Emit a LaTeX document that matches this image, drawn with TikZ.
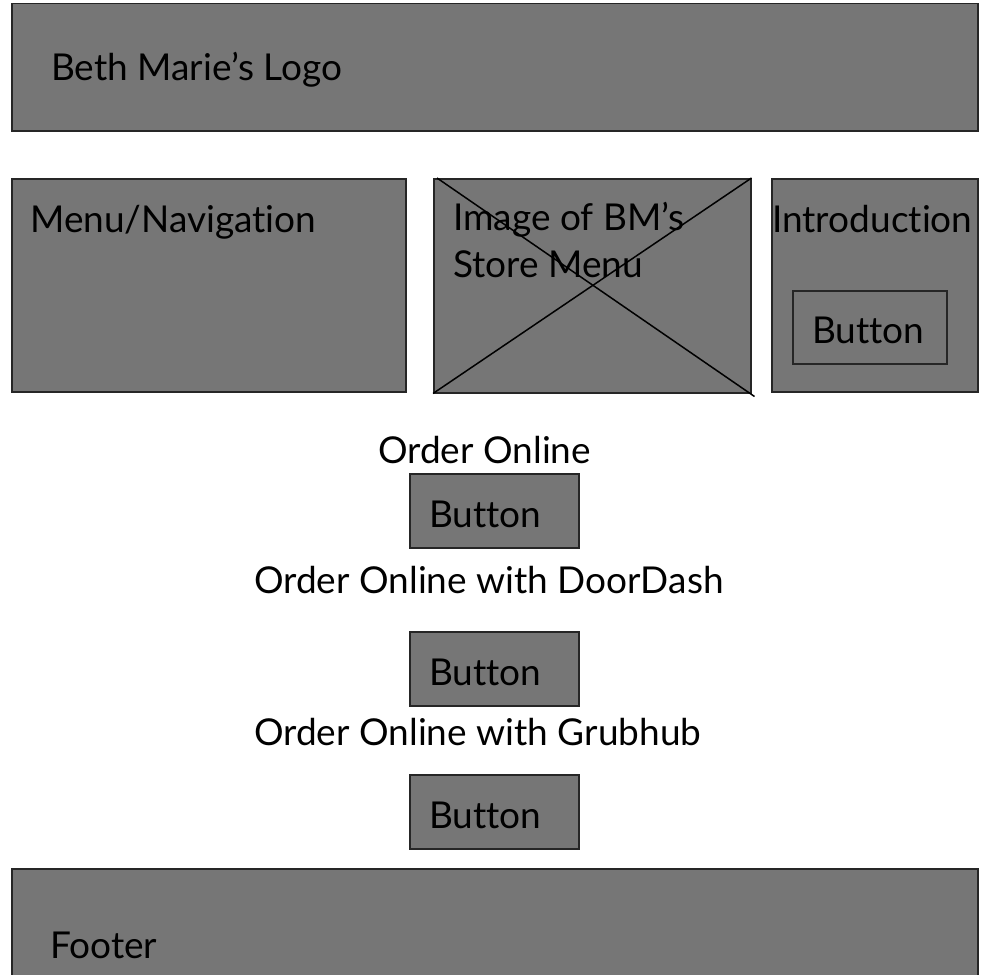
\documentclass[tikz,border=0pt]{standalone}
\usepackage{fontspec}
\setmainfont[Ligatures=NoCommon]{Lato}
\usepackage{tikz}
\usetikzlibrary{positioning,calc}

\definecolor{wiregray}{HTML}{767676}

\begin{document}
\begin{tikzpicture}[
  x=1pt,y=-1pt,
  frame/.style={draw=black!85, fill=wiregray, line width=1.5pt, anchor=north west, inner sep=0pt},
  lbl/.style={anchor=base west, inner sep=0pt, font=\fontsize{37}{47}\selectfont}
]
\useasboundingbox (0,0) rectangle (984,974);
% header
\node[frame, minimum width=966pt, minimum height=127pt] (logo) at (11,3) {};
\node[lbl] (logotxt) at (51,80) {Beth Marie’s Logo};
% middle row
\node[frame, minimum width=394pt, minimum height=213pt] (nav) at (11,178) {};
\node[lbl] (navtxt) at (30,232) {Menu/Navigation};
\node[frame, minimum width=317pt, minimum height=214pt] (img) at (433,178) {};
\node[lbl] (imgtxt1) at (453,230) {Image of BM’s};
\node[lbl] (imgtxt2) at (453,277) {Store Menu};
\draw[line width=1.5pt] ($(img.north west)+(4,0)$) -- ($(img.south east)+(3,3)$);
\draw[line width=1.5pt] (img.north east) -- (img.south west);
\node[frame, minimum width=206pt, minimum height=213pt] (intro) at (771,178) {};
\node[lbl] (introtxt) at (772,232) {Introduction};
\node[frame, minimum width=154pt, minimum height=73pt] (introbtn) at (792,290) {};
\node[lbl] (introbtntxt) at (812,343) {Button};
% order buttons
\node[lbl] (order1) at (378,463) {Order Online};
\node[frame, minimum width=169pt, minimum height=74pt] (btn1) at (409,473) {};
\node[lbl] (btn1txt) at (429,527) {Button};
\node[lbl] (order2) at (254,593) {Order Online with DoorDash};
\node[frame, minimum width=169pt, minimum height=74pt] (btn2) at (409,631) {};
\node[lbl] (btn2txt) at (429,685) {Button};
\node[lbl] (order3) at (254,745) {Order Online with Grubhub};
\node[frame, minimum width=169pt, minimum height=74pt] (btn3) at (409,774) {};
\node[lbl] (btn3txt) at (429,828) {Button};
% footer
\node[frame, minimum width=966pt, minimum height=110pt] (foot) at (11,868) {};
\node[lbl] (foottxt) at (50,958) {Footer};
\end{tikzpicture}
\end{document}
